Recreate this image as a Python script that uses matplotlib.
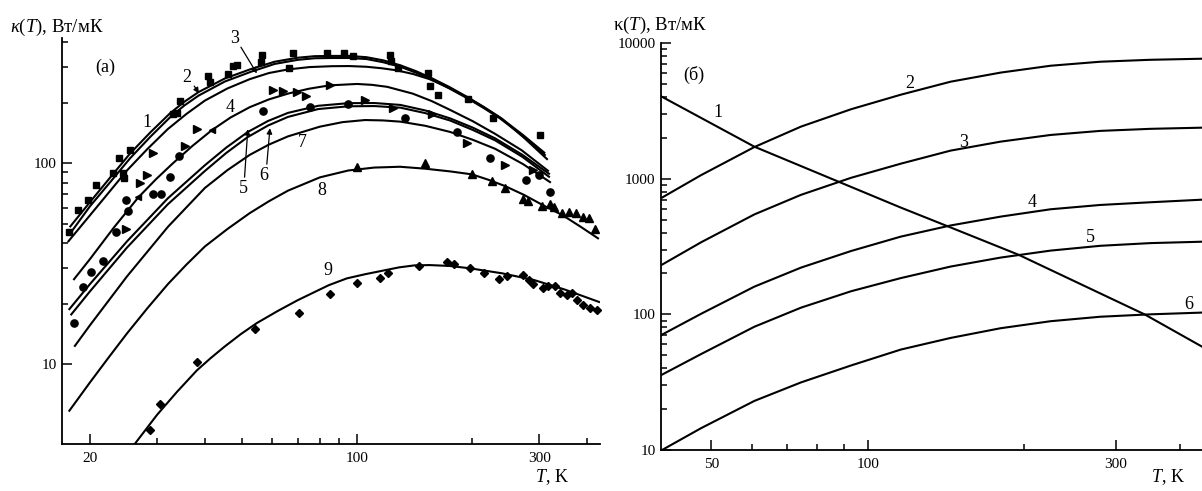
import numpy as np
import matplotlib
matplotlib.use("Agg")
import matplotlib.pyplot as plt
from matplotlib.ticker import FixedLocator, FixedFormatter, NullFormatter

plt.rcParams['font.family'] = ['Liberation Serif', 'DejaVu Serif']
plt.rcParams['mathtext.fontset'] = 'custom'
plt.rcParams['mathtext.rm'] = 'Liberation Serif'
plt.rcParams['mathtext.it'] = 'Liberation Serif:italic'

# ---------- panel (a): model curves, T in K, kappa in W/mK ----------
c1_T = [17.7, 20, 22.6, 25.5, 28.8, 32.4, 35.3, 38.5, 45.1, 53, 60.9, 70, 77.5, 86, 95.4, 106,
        117.3, 130, 142.9, 157, 175, 195, 215, 237, 271.6, 311]
c1_k = [48, 64, 84.9, 112, 142.5, 177, 202, 226, 264, 295, 320, 335, 341, 342, 342, 337,
        325, 307, 287, 265, 239, 213, 190.5, 169, 138.6, 112]
c2_T = [17.8, 20, 22.6, 25.5, 28.8, 32.4, 35.3, 38.5, 45.1, 53, 60.9, 70, 77.5, 86, 95.4, 106,
        117.3, 130, 142.9, 157, 175, 195, 215, 237, 271.6, 312]
c2_k = [45, 61, 80.5, 106, 135.5, 169, 193.5, 217, 255, 286, 312, 327, 333, 334, 334, 330,
        318, 302, 282, 261, 235, 210, 188, 167, 137, 109]
c3_T = [17.5, 20, 22.4, 25, 28.3, 32, 35.8, 40, 45.8, 52.4, 58.8, 66, 75.3, 86, 95.4, 106,
        116, 127, 140.3, 155, 173.8, 195, 216, 240, 275.4, 316]
c3_k = [40.5, 55, 71.4, 92, 117.8, 148, 176, 205, 235.5, 262, 281, 293, 301, 304, 304.5, 302,
        297, 290, 278, 262, 237.7, 212, 188.4, 166, 132.6, 104]
c4_T = [18.1, 20, 23.1, 26.8, 29.8, 33, 37.1, 41.7, 46.7, 52.4, 58.8, 66, 74.8, 84.7, 100,
        109.5, 120, 140, 156.9, 175.6, 201.2, 230, 270, 318]
c4_k = [26.2, 33.3, 47.8, 67.7, 83.3, 100, 121.9, 146, 168.9, 190, 207.7, 222, 234.7, 244, 248,
        245.5, 240, 222, 203.9, 184, 161.7, 140, 116, 91]
c5_T = [17.6, 20, 25, 32, 40, 45.5, 51.8, 58.5, 66, 79.2, 95, 111.2, 130, 151.1, 175.6, 201,
        230, 271.3, 320]
c5_k = [18.6, 25, 40.8, 66.9, 97.7, 119.6, 143, 162.2, 178, 193.1, 199, 199.3, 195, 183, 167,
        150.4, 133, 110, 88]
c6_T = [17.8, 20, 25, 32, 40, 45.5, 51.8, 58.5, 66, 79.2, 95, 111.2, 130, 151.1, 175.6, 201,
        230, 271.3, 320]
c6_k = [17.5, 23, 38, 62.5, 91.5, 112.5, 135, 154, 170, 186, 192, 192.5, 189, 177.5, 163,
        146.5, 130, 107.5, 85]
c7_T = [18.2, 20, 25, 32, 40, 45.8, 52.4, 58.8, 66, 80, 91.7, 105, 116.8, 130, 151.1, 175.6,
        201, 230, 272.2, 322]
c7_k = [12.2, 15.6, 27.3, 48.2, 75.3, 92.3, 110, 123.7, 136, 152, 160.1, 164, 163.3, 161,
        153.5, 143, 130.8, 118, 99.0, 80]
c8_T = [17.6, 20, 22.4, 25, 28.3, 32, 35.8, 40, 45.8, 52.4, 58.8, 66, 80, 95, 111, 129.6,
        150.9, 175.6, 200, 220.9, 244, 273.6, 306, 346, 385.7, 430]
c8_k = [5.8, 8.1, 10.8, 14.2, 19.0, 25, 31.3, 38.5, 47.0, 56.4, 64.6, 73, 85, 92, 95.1, 96,
        93.9, 91, 88, 82.7, 77, 69.6, 62, 55, 48.2, 42]
c9_T = [25.0, 26.2, 30, 33.8, 38.1, 41.4, 45, 49.6, 54.7, 61.9, 70, 84.4, 94.1, 105, 129,
        141.6, 155, 174.7, 197, 240, 291, 350, 433]
c9_k = [3.54, 4.0, 5.6, 7.27, 9.3, 10.7, 12.2, 14.07, 16.0, 18.33, 20.8, 24.7, 26.7, 28.0,
        30.3, 31.0, 31.1, 30.8, 30.0, 28.3, 26.2, 23.5, 20.3]

# ---------- panel (a): experimental points ----------
sq_T = [17.6, 18.6, 19.8, 20.7, 23.0, 23.8, 25.5, 24.4, 24.5, 33.0, 33.8, 34.4, 40.7, 41.2,
        45.9, 47.4, 48.5, 56.4, 56.0, 68.0, 66.4, 83.4, 92.5, 97.6, 122, 122.7, 128, 153.4,
        155.2, 163, 195, 227, 301]
sq_k = [45.4, 58.3, 65.5, 77.8, 89.2, 105.9, 116.1, 89.2, 84.2, 175.3, 177.4, 203, 271, 253,
        277, 304, 307, 344, 318, 352, 297, 352, 352, 341, 344, 322, 297, 280,
        242, 218, 208, 167, 138]
trr_T = [24.8, 27.0, 28.2, 29.2, 35.5, 38.1, 60.3, 64.0, 69.7, 73.5, 85.0, 105, 124.3, 157,
         194, 244, 289]
trr_k = [47.0, 79.5, 87.2, 112.1, 121.5, 147.6, 231, 228, 226, 215, 244, 206, 188, 175,
         126, 97.7, 92.3]
trl_T = [26.8, 41.7]
trl_k = [67.7, 146]
ci_T = [18.2, 19.2, 20.1, 21.6, 23.4, 24.8, 25.2, 29.2, 30.7, 32.4, 34.2, 56.8, 75.3, 94.7,
        133.6, 183, 223, 277, 300, 320]
ci_k = [16.0, 24.2, 28.7, 32.5, 45.4, 65.5, 57.7, 70.1, 70.1, 85.2, 108.3, 181, 190, 197,
        167, 143, 106, 82.3, 87.2, 71.7]
tru_T = [100, 150.7, 200, 225.6, 244, 272, 280, 305, 320, 328, 344, 359, 374, 391, 405, 420]
tru_k = [95.5, 100, 88.1, 81.4, 75.1, 66.2, 64.7, 61.1, 62.5, 60.4, 56.4, 57.0, 56.4, 53.9,
         53.2, 47.0]
di_T = [28.7, 30.5, 38.1, 54.1, 70.5, 85.0, 100, 114.9, 120.5, 145.3, 172, 179.4, 197.6, 215,
        235, 247, 272, 282, 289, 307, 316, 330, 340, 354.6, 365, 376.5, 390.6, 407, 425]
di_k = [4.70, 6.32, 10.2, 14.9, 17.9, 22.3, 25.3, 26.8, 28.4, 30.7, 32.2, 31.4, 30.0, 28.4,
        26.5, 27.4, 27.7, 26.2, 25.0, 23.9, 24.4, 24.4, 22.6, 22.0, 22.6, 20.8, 19.7, 19.0, 18.6]

# ---------- panel (б) ----------
r1_T = [40, 60.5, 88.8, 115.8, 143.1, 195.1, 341.9, 440]
r1_k = [4050, 1721, 934, 612, 443, 275, 99.5, 57.8]
r_T = [40, 47.8, 60.5, 74.4, 92.9, 115.8, 144.4, 180.2, 225, 280.3, 350, 440]
r2_k = [718, 1063, 1710, 2420, 3250, 4159, 5186, 6050, 6800, 7278, 7520, 7657]
r3_k = [230, 340, 545, 760, 1015, 1290, 1610, 1875, 2100, 2250, 2330, 2376]
r4_k = [70.2, 101, 160, 221, 293, 374, 452, 525, 595, 640, 670, 700]
r5_k = [35.6, 51, 81, 112, 148, 185, 225, 262, 295, 320, 335, 343]
r6_k = [9.9, 14.5, 23, 31.5, 42, 55, 67, 79, 89, 96, 100, 103]

fig = plt.figure(figsize=(12.02, 4.91), dpi=100)
axa = fig.add_axes([62 / 1202, 1 - 444 / 491, (600 - 62) / 1202, (444 - 38) / 491])
axb = fig.add_axes([661 / 1202, 1 - 450 / 491, (1202 - 661) / 1202, (450 - 43) / 491])

lw = 1.5
for T, k in [(c1_T, c1_k), (c2_T, c2_k), (c3_T, c3_k), (c4_T, c4_k), (c5_T, c5_k),
             (c6_T, c6_k), (c7_T, c7_k), (c8_T, c8_k), (c9_T, c9_k)]:
    axa.plot(T, k, color='black', lw=lw, solid_capstyle='butt', solid_joinstyle='round')

axa.plot(sq_T, sq_k, 's', color='black', ms=4.8, ls='none')
axa.plot(trr_T, trr_k, '>', color='black', ms=5.5, ls='none')
axa.plot(trl_T, trl_k, '<', color='black', ms=4.5, ls='none')
axa.plot(ci_T, ci_k, 'o', color='black', ms=5.2, ls='none')
axa.plot(tru_T, tru_k, '^', color='black', ms=5.5, ls='none', clip_on=False)
axa.plot(di_T, di_k, 'D', color='black', ms=4.3, ls='none', clip_on=False)

for T, k in [(r1_T, r1_k), (r_T, r2_k), (r_T, r3_k), (r_T, r4_k), (r_T, r5_k), (r_T, r6_k)]:
    axb.plot(T, k, color='black', lw=lw, solid_joinstyle='round')

for ax in (axa, axb):
    ax.set_xscale('log')
    ax.set_yscale('log')
    ax.spines['top'].set_visible(False)
    ax.spines['right'].set_visible(False)
    for s in ('left', 'bottom'):
        ax.spines[s].set_linewidth(1.3)
    ax.tick_params(which='both', direction='in', width=1.1, labelsize=11)
    ax.tick_params(which='major', length=7)
    ax.tick_params(which='minor', length=4)
    ax.tick_params(axis='x', pad=6)
    ax.tick_params(axis='y', pad=4)

axa.set_xlim(16.9, 433)
axa.set_ylim(4.0, 420)
axa.xaxis.set_major_locator(FixedLocator([20, 100, 300]))
axa.xaxis.set_major_formatter(FixedFormatter(['20', '100', '300']))
axa.xaxis.set_minor_locator(FixedLocator([30, 40, 50, 60, 70, 80, 90, 200, 400]))
axa.xaxis.set_minor_formatter(NullFormatter())
axa.yaxis.set_major_locator(FixedLocator([10, 100]))
axa.yaxis.set_major_formatter(FixedFormatter(['10', '100']))
axa.yaxis.set_minor_locator(FixedLocator([20, 30, 40, 50, 60, 70, 80, 90, 200, 300, 400]))
axa.yaxis.set_minor_formatter(NullFormatter())

axb.set_xlim(40, 440)
axb.set_ylim(10, 10000)
axb.xaxis.set_major_locator(FixedLocator([50, 100, 300]))
axb.xaxis.set_major_formatter(FixedFormatter(['50', '100', '300']))
axb.xaxis.set_minor_locator(FixedLocator([60, 70, 80, 90, 200, 400]))
axb.xaxis.set_minor_formatter(NullFormatter())
axb.yaxis.set_major_locator(FixedLocator([10, 100, 1000, 10000]))
axb.yaxis.set_major_formatter(FixedFormatter(['10', '100', '1000', '10000']))
minor_b = [m * 10 ** e for e in (1, 2, 3) for m in range(2, 10)]
axb.yaxis.set_minor_locator(FixedLocator(minor_b))
axb.yaxis.set_minor_formatter(NullFormatter())

# curve labels, panel (a)
fs = 13
axa.text(20.6, 300, '(а)', fontsize=fs, ha='left', va='center')
for s, T, k in [('1', 28.2, 160), ('2', 35.9, 268), ('3', 47.9, 419), ('4', 46.5, 190),
                ('5', 50.3, 75.1), ('6', 57.1, 87.2), ('7', 71.8, 127), ('8', 81.0, 73.4),
                ('9', 84.0, 29.3)]:
    axa.text(T, k, s, fontsize=fs, ha='center', va='center', clip_on=False)
arrow = dict(arrowstyle='-|>', color='black', lw=0.9, mutation_scale=8, shrinkA=0, shrinkB=0)
axa.annotate('', xy=(38.6, 223), xytext=(37.5, 242), arrowprops=arrow)
axa.annotate('', xy=(54.7, 280), xytext=(49.7, 378), arrowprops=arrow)
axa.annotate('', xy=(51.8, 147.6), xytext=(50.8, 85.2), arrowprops=arrow)
axa.annotate('', xy=(59.2, 149.3), xytext=(58.1, 98.9), arrowprops=arrow)

# curve labels, panel (б)
axb.text(46.3, 5840, '(б)', fontsize=fs, ha='center', va='center')
for s, T, k in [('1', 51.6, 3064), ('2', 120.5, 5012), ('3', 153, 1842), ('4', 207.5, 665),
                ('5', 268.5, 367), ('6', 415.6, 117.9)]:
    axb.text(T, k, s, fontsize=fs, ha='center', va='center')

fig.text(10 / 1202, 1 - 27 / 491, r'$\mathit{\kappa}$($\mathit{T}$), Вт/мК', fontsize=13.5,
         ha='left', va='center')
fig.text(613 / 1202, 1 - 25 / 491, r'κ($\mathit{T}$), Вт/мК', fontsize=13.5,
         ha='left', va='center')
fig.text(552 / 1202, 4 / 491, r'$\mathit{T}$, K', fontsize=13, ha='center', va='bottom')
fig.text(1168 / 1202, 4 / 491, r'$\mathit{T}$, K', fontsize=13, ha='center', va='bottom')

fig.savefig('out.png', dpi=100)
